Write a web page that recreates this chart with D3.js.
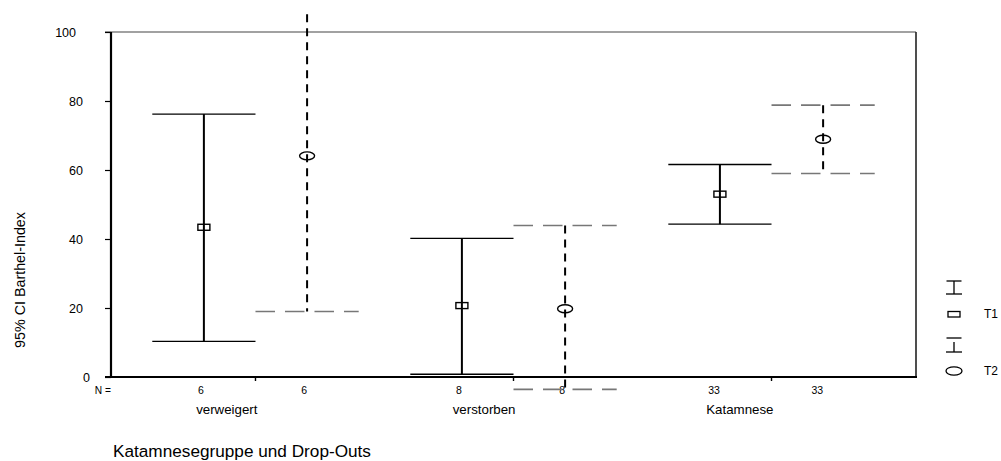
<!DOCTYPE html>
<html>
<head>
<meta charset="utf-8">
<script src="https://cdn.jsdelivr.net/npm/d3@7"></script>
<style>
  html, body { margin: 0; padding: 0; background: #fff; }
  svg { display: block; font-family: "Liberation Sans", Arial, sans-serif; }
</style>
</head>
<body>
<svg id="chart" width="1001" height="461"></svg>
<script>
// Barthel-Index: mean with 95% confidence interval, per group and time point
const groups = ["verweigert", "verstorben", "Katamnese"];
const times = ["T1", "T2"];
const means = {
  T1: [43.4, 20.7, 53.0],
  T2: [64.1, 19.8, 68.9]
};
const lower = {
  T1: [10.3, 0.8, 44.3],
  T2: [19.0, -3.6, 59.0]
};
const upper = {
  T1: [76.2, 40.2, 61.6],
  T2: [109.2, 43.9, 78.8]
};
const nCounts = {
  T1: [6, 8, 33],
  T2: [6, 8, 33]
};
const yTicks = [0, 20, 40, 60, 80, 100];

const FONT = "Liberation Sans, Arial, sans-serif";
const svg = d3.select("#chart");
const plotLeft = 111, plotRight = 916, plotTop = 32, plotBottom = 377;

const x = d3.scaleBand().domain(groups).range([plotLeft, plotRight])
  .paddingInner(0.2).paddingOuter(0.16);
const xSub = d3.scaleBand().domain(times).range([0, x.bandwidth()]);
const y = d3.scaleLinear().domain([0, 100]).range([plotBottom, plotTop]);

const cx = (g, t) => x(g) + xSub(t) + xSub.bandwidth() / 2;

// plot region clip (lets intervals run past the frame a little)
svg.append("defs").append("clipPath").attr("id", "plotclip")
  .append("rect").attr("x", 0).attr("y", 14).attr("width", 1001).attr("height", 447);

// frame: thin top/right, heavy left/bottom
svg.append("line").attr("x1", plotLeft - 6).attr("x2", plotRight).attr("y1", plotTop).attr("y2", plotTop)
  .attr("stroke", "#444").attr("stroke-width", 1.2);
svg.append("line").attr("x1", plotRight).attr("x2", plotRight).attr("y1", plotTop).attr("y2", plotBottom)
  .attr("stroke", "#222").attr("stroke-width", 1.6);

// y axis
const yAxis = svg.append("g").attr("transform", `translate(${plotLeft},0)`)
  .call(d3.axisLeft(y).tickValues(yTicks).tickSize(6).tickFormat(d3.format("d")));
yAxis.select(".domain").remove();
yAxis.selectAll(".tick line").attr("stroke", "#000").attr("stroke-width", 1.2);
yAxis.selectAll(".tick text")
  .attr("font-size", "12.5px")
  .attr("font-family", FONT)
  .attr("fill", "#000")
  .attr("text-anchor", "end")
  .attr("x", d => -21 - 7 * (String(d).length - 1))
  .attr("dy", "0.35em");
svg.append("line").attr("x1", plotLeft).attr("x2", plotLeft).attr("y1", plotTop).attr("y2", plotBottom + 1)
  .attr("stroke", "#000").attr("stroke-width", 2.2);

// x axis
const xAxis = svg.append("g").attr("transform", `translate(0,${plotBottom})`)
  .call(d3.axisBottom(x).tickSize(4));
xAxis.select(".domain").remove();
xAxis.selectAll(".tick line").attr("stroke", "#000").attr("stroke-width", 1.4);
xAxis.selectAll(".tick text")
  .attr("font-size", "13.3px")
  .attr("font-family", FONT)
  .attr("fill", "#000")
  .attr("text-anchor", "end")
  .attr("x", 2)
  .attr("y", 37)
  .attr("dy", 0);
svg.append("line").attr("x1", plotLeft - 6).attr("x2", plotRight + 1).attr("y1", plotBottom).attr("y2", plotBottom)
  .attr("stroke", "#000").attr("stroke-width", 2.2);

// N counts
svg.append("text").attr("x", plotLeft).attr("y", 394).attr("text-anchor", "end")
  .attr("font-family", FONT).attr("font-size", "10.2px").text("N =");
times.forEach(t => {
  svg.append("g").selectAll("text").data(groups).join("text")
    .attr("x", g => cx(g, t))
    .attr("y", 394)
    .attr("text-anchor", "end")
    .attr("font-family", FONT)
    .attr("font-size", "10.5px")
    .text((g, i) => nCounts[t][i]);
});

// intervals
const styleOf = {
  T1: { vdash: null, cdash: null, ccol: "#000", cw: 1.3 },
  T2: { vdash: "8,6", cdash: "19.5,10", ccol: "#777", cw: 1.6 }
};
const plot = svg.append("g").attr("clip-path", "url(#plotclip)");
times.forEach(t => {
  const st = styleOf[t];
  groups.forEach((g, i) => {
    const xc = cx(g, t);
    const x0 = x(g) + xSub(t), x1 = x0 + xSub.bandwidth();
    // caps
    [lower[t][i], upper[t][i]].forEach(v => {
      plot.append("line")
        .attr("x1", x0).attr("x2", x1).attr("y1", y(v)).attr("y2", y(v))
        .attr("stroke", st.ccol).attr("stroke-width", st.cw)
        .attr("stroke-dasharray", st.cdash);
    });
    // whisker
    plot.append("line")
      .attr("x1", xc).attr("x2", xc).attr("y1", y(upper[t][i])).attr("y2", y(lower[t][i]))
      .attr("stroke", "#000").attr("stroke-width", 2)
      .attr("stroke-dasharray", st.vdash);
    // mean marker
    if (t === "T1") {
      plot.append("rect")
        .attr("x", xc - 6).attr("y", y(means[t][i]) - 3)
        .attr("width", 12).attr("height", 6)
        .attr("fill", "none").attr("stroke", "#000").attr("stroke-width", 1.4);
    } else {
      plot.append("ellipse")
        .attr("cx", xc).attr("cy", y(means[t][i]))
        .attr("rx", 7.5).attr("ry", 4)
        .attr("fill", "none").attr("stroke", "#000").attr("stroke-width", 1.4);
    }
  });
});

// axis titles
svg.append("text")
  .attr("transform", "translate(25,280) rotate(-90)")
  .attr("text-anchor", "middle")
  .attr("font-family", FONT)
  .attr("font-size", "14.3px")
  .text("95% CI Barthel-Index");
svg.append("text")
  .attr("x", 113).attr("y", 457)
  .attr("font-family", FONT)
  .attr("font-size", "17.2px")
  .text("Katamnesegruppe und Drop-Outs");

// legend
const lx = 954;
const legendRows = [
  { t: "T1", yTop: 281, yBot: 294, marker: 314.5, label: 318 },
  { t: "T2", yTop: 338, yBot: 352, marker: 371, label: 375 }
];
const legend = svg.append("g");
legendRows.forEach(r => {
  legend.append("line").attr("x1", lx - 7.5).attr("x2", lx + 7.5)
    .attr("y1", r.yTop).attr("y2", r.yTop).attr("stroke", "#000").attr("stroke-width", 1.3);
  legend.append("line").attr("x1", lx - 8).attr("x2", lx + 8)
    .attr("y1", r.yBot).attr("y2", r.yBot).attr("stroke", "#000").attr("stroke-width", 1.3);
  legend.append("line").attr("x1", lx).attr("x2", lx)
    .attr("y1", r.yTop).attr("y2", r.yBot).attr("stroke", "#000").attr("stroke-width", 1.3)
    .attr("stroke-dasharray", r.t === "T2" ? "0,4,10" : null);
  if (r.t === "T1") {
    legend.append("rect").attr("x", lx - 6).attr("y", r.marker - 3)
      .attr("width", 12).attr("height", 5.5)
      .attr("fill", "none").attr("stroke", "#000").attr("stroke-width", 1.3);
  } else {
    legend.append("ellipse").attr("cx", lx).attr("cy", r.marker)
      .attr("rx", 8).attr("ry", 4.2)
      .attr("fill", "none").attr("stroke", "#000").attr("stroke-width", 1.3);
  }
  legend.append("text").attr("x", 984).attr("y", r.label)
    .attr("font-family", FONT).attr("font-size", "12px").text(r.t);
});
</script>
</body>
</html>
